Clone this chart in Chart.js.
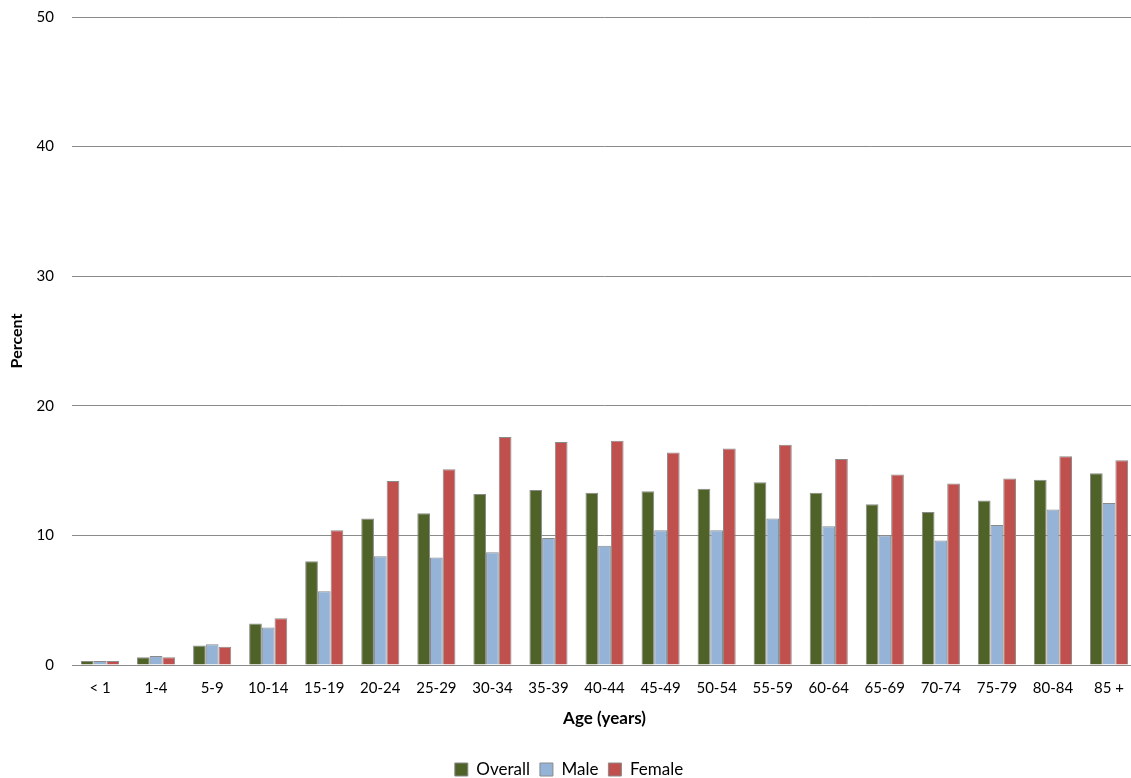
<!DOCTYPE html>
<html lang="en">
<head>
<meta charset="UTF-8">
<title>Percent by age group</title>
<script src="https://cdn.jsdelivr.net/npm/chart.js"></script>
<style>
  html, body { margin: 0; padding: 0; background: #fff; overflow: hidden; }
  #wrap { width: 1131px; height: 778px; overflow: hidden; }
</style>
</head>
<body>
<!-- the plot runs a few pixels past the right edge, like the original -->
<div id="wrap"><canvas id="myChart" width="1138" height="778"></canvas></div>
<script>
// age groups on the x axis
const ageGroups = ['< 1', '1-4', '5-9', '10-14', '15-19', '20-24', '25-29', '30-34', '35-39', '40-44',
                   '45-49', '50-54', '55-59', '60-64', '65-69', '70-74', '75-79', '80-84', '85 +'];

// percent values
const overall = [0.3, 0.6, 1.5, 3.2, 8.0, 11.3, 11.7, 13.2, 13.5, 13.3, 13.4, 13.6, 14.1, 13.3, 12.4, 11.8, 12.7, 14.3, 14.8];
const male    = [0.3, 0.7, 1.6, 2.9, 5.7, 8.4, 8.3, 8.7, 9.8, 9.2, 10.4, 10.4, 11.3, 10.7, 10.0, 9.6, 10.8, 12.0, 12.5];
const female  = [0.3, 0.6, 1.4, 3.6, 10.4, 14.2, 15.1, 17.6, 17.2, 17.3, 16.4, 16.7, 17.0, 15.9, 14.7, 14.0, 14.4, 16.1, 15.8];

const yTicks = [0, 10, 20, 30, 40, 50];

const fontFamily = 'Lato, "Open Sans", sans-serif';
Chart.defaults.font.family = fontFamily;
Chart.defaults.color = '#000';

function serie(label, data, color) {
    return {
        label: label,
        data: data,
        backgroundColor: color,
        borderColor: '#8a8a8a',
        borderWidth: 1,
        categoryPercentage: 0.68,
        barPercentage: 1.0
    };
}

const ctx = document.getElementById('myChart').getContext('2d');
const myChart = new Chart(ctx, {
    type: 'bar',
    data: {
        labels: ageGroups,
        datasets: [
            serie('Overall', overall, '#4f6228'),
            serie('Male', male, '#95b3d7'),
            serie('Female', female, '#c0504d')
        ]
    },
    options: {
        responsive: false,
        animation: false,
        layout: { padding: { top: 17, right: 0, left: 0, bottom: -10 } },
        plugins: {
            tooltip: { enabled: false },
            legend: {
                position: 'bottom',
                labels: {
                    boxWidth: 13,
                    boxHeight: 13,
                    padding: 10,
                    font: { size: 17 },
                    color: '#000'
                }
            }
        },
        scales: {
            x: {
                grid: { display: false, drawTicks: false },
                border: { color: '#8a8a8a' },
                ticks: { font: { size: 15 }, padding: 14, maxRotation: 0, autoSkip: false },
                title: { display: true, text: 'Age (years)', font: { size: 17, weight: 'bold' }, padding: { top: 4, bottom: 22 } },
                afterFit: function (scale) { scale.height = 86; }
            },
            y: {
                min: 0,
                max: 50,
                afterBuildTicks: function (scale) { scale.ticks = yTicks.map(v => ({ value: v })); },
                // invisible tick marks keep the labels away from the plot
                grid: { color: '#8a8a8a', drawTicks: true, tickLength: 18, tickColor: 'rgba(0,0,0,0)' },
                border: { display: false },
                ticks: { font: { size: 15 }, padding: 0 },
                title: { display: true, text: 'Percent', font: { size: 16, weight: 'bold' }, padding: { top: 7, bottom: 0 } },
                afterFit: function (scale) { scale.width = 72; }
            }
        }
    }
});
</script>
</body>
</html>
